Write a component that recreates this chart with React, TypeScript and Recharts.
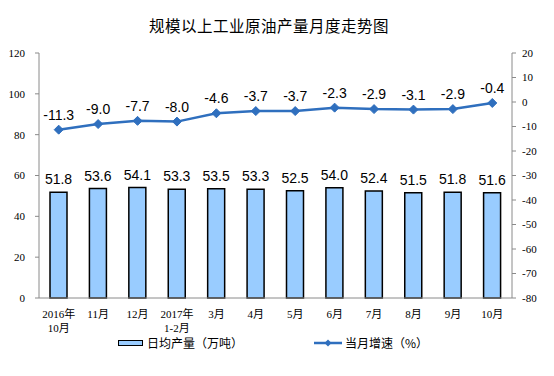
import React from "react";
import {
  ComposedChart,
  Bar,
  Line,
  XAxis,
  YAxis,
  LabelList,
} from "recharts";

const MONTHS = [
  "2016年\n10月",
  "11月",
  "12月",
  "2017年\n1-2月",
  "3月",
  "4月",
  "5月",
  "6月",
  "7月",
  "8月",
  "9月",
  "10月",
];
const DAILY_OUTPUT = [51.8, 53.6, 54.1, 53.3, 53.5, 53.3, 52.5, 54.0, 52.4, 51.5, 51.8, 51.6];
const MONTHLY_GROWTH = [-11.3, -9.0, -7.7, -8.0, -4.6, -3.7, -3.7, -2.3, -2.9, -3.1, -2.9, -0.4];
const LEFT_TICKS = [0, 20, 40, 60, 80, 100, 120];
const RIGHT_TICKS = [-80, -70, -60, -50, -40, -30, -20, -10, 0, 10, 20];

const BAR_FILL = "#99ccff";
const LINE_BLUE = "#2f6fbe";
const AXIS_GRAY = "#8a8a8a";
const SERIF = "'Liberation Serif', 'Noto Sans CJK SC', serif";
const SANS = "'Liberation Sans', Arial, sans-serif";
const CJK = "'Noto Sans CJK SC', sans-serif";

const data = MONTHS.map((m, i) => ({
  month: m,
  output: DAILY_OUTPUT[i],
  growth: MONTHLY_GROWTH[i],
}));

function MonthTick(props: any) {
  const { x, y, payload } = props;
  const lines = String(payload.value).split("\n");
  return (
    <text
      x={x}
      y={y}
      textAnchor="middle"
      fontFamily={SERIF}
      fontSize={11}
      fill="#000"
    >
      {lines.map((l, i) => (
        <tspan key={i} x={x} dy={i === 0 ? 12 : 14}>
          {l}
        </tspan>
      ))}
    </text>
  );
}

function Diamond(props: any) {
  const { cx, cy } = props;
  if (cx == null || cy == null) return null;
  const r = 4.5;
  return (
    <path
      d={`M${cx},${cy - r} L${cx + r},${cy} L${cx},${cy + r} L${cx - r},${cy} Z`}
      fill={LINE_BLUE}
      stroke={LINE_BLUE}
    />
  );
}

const fmt = (v: any) => Number(v).toFixed(1);

export default function App() {
  return (
    <div
      style={{
        position: "absolute",
        left: 0,
        top: 0,
        width: 554,
        height: 376,
        background: "#fff",
      }}
    >
      <div
        style={{
          position: "absolute",
          left: 0,
          width: 538,
          top: 14,
          textAlign: "center",
          fontFamily: CJK,
          fontSize: 15.5,
          letterSpacing: 0.5,
          color: "#000",
        }}
      >
        规模以上工业原油产量月度走势图
      </div>

      <ComposedChart
        width={554}
        height={376}
        data={data}
        margin={{ top: 53, right: 0, bottom: 38, left: 0 }}
        barCategoryGap="0%"
      >
        <XAxis
          dataKey="month"
          interval={0}
          height={40}
          tick={<MonthTick />}
          tickLine={false}
          axisLine={{ stroke: AXIS_GRAY }}
        />
        <YAxis
          yAxisId="left"
          domain={[0, 120]}
          ticks={LEFT_TICKS}
          width={39}
          tickSize={4}
          tickMargin={10}
          axisLine={{ stroke: AXIS_GRAY }}
          tickLine={{ stroke: AXIS_GRAY }}
          tick={{ fontFamily: SERIF, fontSize: 11, fill: "#000" }}
        />
        <YAxis
          yAxisId="right"
          orientation="right"
          domain={[-80, 20]}
          ticks={RIGHT_TICKS}
          width={42}
          tickSize={4}
          tickMargin={6}
          axisLine={{ stroke: AXIS_GRAY }}
          tickLine={{ stroke: AXIS_GRAY }}
          tick={{ fontFamily: SERIF, fontSize: 11, fill: "#000", textAnchor: "start" }}
        />
        <Bar
          yAxisId="left"
          dataKey="output"
          barSize={17}
          fill={BAR_FILL}
          stroke="#000"
          strokeWidth={1.5}
          isAnimationActive={false}
        >
          <LabelList
            dataKey="output"
            position="top"
            offset={8}
            formatter={fmt}
            style={{ fontFamily: SANS, fontSize: 14, fill: "#000" }}
          />
        </Bar>
        <Line
          yAxisId="right"
          dataKey="growth"
          stroke={LINE_BLUE}
          strokeWidth={2.5}
          dot={<Diamond />}
          activeDot={false}
          isAnimationActive={false}
        >
          <LabelList
            dataKey="growth"
            position="top"
            offset={10}
            formatter={fmt}
            style={{ fontFamily: SANS, fontSize: 14, fill: "#000" }}
          />
        </Line>
      </ComposedChart>

      {/* legend */}
      <div
        style={{
          position: "absolute",
          left: 118,
          top: 340,
          width: 25,
          height: 6,
          background: BAR_FILL,
          border: "1.5px solid #000",
          boxSizing: "border-box",
        }}
      />
      <div
        style={{
          position: "absolute",
          left: 147,
          top: 334,
          fontFamily: CJK,
          fontSize: 12,
          lineHeight: "18px",
          color: "#000",
        }}
      >
        日均产量（万吨）
      </div>
      <svg
        style={{ position: "absolute", left: 313, top: 336 }}
        width={30}
        height={14}
      >
        <line x1={1} y1={7} x2={29} y2={7} stroke={LINE_BLUE} strokeWidth={2.5} />
        <path d="M15,3.5 L18.5,7 L15,10.5 L11.5,7 Z" fill={LINE_BLUE} />
      </svg>
      <div
        style={{
          position: "absolute",
          left: 345,
          top: 334,
          fontFamily: CJK,
          fontSize: 12,
          lineHeight: "18px",
          color: "#000",
        }}
      >
        当月增速（%）
      </div>
    </div>
  );
}
